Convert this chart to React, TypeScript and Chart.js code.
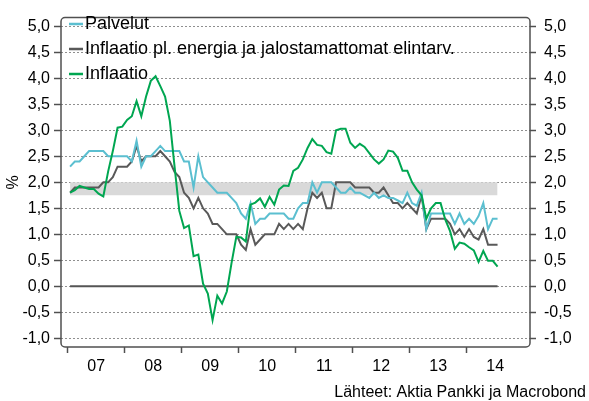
import React, { useEffect, useRef } from 'react';
import { Chart, registerables } from 'chart.js';

Chart.register(...registerables);

// ---- data (monthly, Jan 2007 .. Jul 2014) ----
const yearLabels = ['07', '08', '09', '10', '11', '12', '13', '14'];

const palvelut = [
  2.3, 2.4, 2.4, 2.5, 2.6, 2.6, 2.6, 2.6, 2.5, 2.5,
  2.5, 2.5, 2.5, 2.4, 2.8, 2.3, 2.5, 2.5, 2.6, 2.7,
  2.6, 2.6, 2.6, 2.6, 2.4, 2.4, 1.9, 2.5, 2.1, 2.0,
  1.9, 1.8, 1.8, 1.8, 1.7, 1.6, 1.4, 1.3, 1.6, 1.2,
  1.3, 1.3, 1.4, 1.4, 1.4, 1.4, 1.3, 1.3, 1.5, 1.6,
  1.6, 2.0, 1.8, 2.0, 2.0, 2.0, 1.9, 1.8, 1.8, 1.9,
  1.8, 1.8, 1.75, 1.7, 1.8, 1.7, 1.75, 1.7, 1.7, 1.65,
  1.6, 1.8, 1.6, 1.55, 1.8, 1.1, 1.4, 1.4, 1.4, 1.4,
  1.4, 1.2, 1.4, 1.2, 1.3, 1.2, 1.35, 1.6, 1.1, 1.3, 1.3,
];

const pohjaInflaatio = [
  1.8, 1.9, 1.9, 1.9, 1.9, 1.9, 1.9, 2.0, 2.0, 2.1,
  2.3, 2.3, 2.3, 2.4, 2.7, 2.4, 2.5, 2.5, 2.5, 2.6,
  2.5, 2.4, 2.2, 2.1, 1.8, 1.7, 1.5, 1.7, 1.5, 1.4,
  1.2, 1.2, 1.1, 1.0, 1.0, 1.0, 0.8, 0.7, 1.1, 0.8,
  0.9, 1.0, 1.0, 1.0, 1.2, 1.1, 1.2, 1.1, 1.2, 1.1,
  1.5, 1.8, 1.7, 1.8, 1.5, 1.5, 2.0, 2.0, 2.0, 2.0,
  1.9, 1.9, 1.9, 1.9, 1.8, 1.8, 1.9, 1.75, 1.6, 1.6,
  1.5, 1.6, 1.5, 1.4, 1.75, 1.1, 1.3, 1.3, 1.3, 1.3,
  1.2, 1.0, 1.1, 0.95, 1.1, 0.95, 0.9, 1.1, 0.8, 0.8, 0.8,
];

const inflaatio = [
  1.8, 1.85, 1.93, 1.9, 1.87, 1.87, 1.78, 1.73, 2.2, 2.6,
  3.05, 3.07, 3.2, 3.27, 3.56, 3.27, 3.65, 3.95, 4.04, 3.85,
  3.65, 3.18, 2.3, 1.45, 1.12, 1.17, 0.58, 0.61, 0.05, -0.14,
  -0.65, -0.18, -0.33, -0.1, 0.45, 0.95, 0.94, 0.86, 1.57, 1.61,
  1.69, 1.53, 1.72, 1.57, 1.86, 1.94, 1.93, 2.22, 2.28, 2.44,
  2.66, 2.83, 2.72, 2.7, 2.58, 2.55, 3.0, 3.03, 3.03, 2.76,
  2.66, 2.74, 2.68, 2.56, 2.44, 2.36, 2.44, 2.61, 2.59, 2.47,
  2.22, 2.22, 2.0, 1.86, 1.75, 1.3, 1.5, 1.6, 1.6, 1.28,
  1.06, 0.72, 0.84, 0.82, 0.75, 0.69, 0.47, 0.68, 0.49, 0.49, 0.38,
];

const targetBandLow = 1.75;
const targetBandHigh = 2.0;
const yTickValues = [-1, -0.5, 0, 0.5, 1, 1.5, 2, 2.5, 3, 3.5, 4, 4.5, 5];

const seriesNames = ['Palvelut', 'Inflaatio pl. energia ja jalostamattomat elintarv.', 'Inflaatio'];
const seriesColors = ['#5BBFD0', '#595959', '#00A651'];
const sourceText = 'Lähteet: Aktia Pankki ja Macrobond';

const FONT = "'Liberation Sans', Arial, Helvetica, sans-serif";

const toPoints = (arr: number[]) => arr.map((y, i) => ({ x: i + 0.5, y }));
const fmt = (v: number) => Number(v).toFixed(1).replace('.', ',');

export default function App() {
  const ref = useRef<HTMLCanvasElement | null>(null);

  useEffect(() => {
    const canvas = ref.current;
    if (!canvas) return;
    const nMonths = inflaatio.length;
    const xStart = 0.5;
    const xEnd = nMonths - 0.5;

    const xTickValues: number[] = [];
    yearLabels.forEach((_, k) => {
      xTickValues.push(k * 12);
      xTickValues.push(k * 12 + 6);
    });

    const decor = {
      id: 'decor',
      afterDatasetsDraw(chart: any) {
        const { ctx, chartArea: a } = chart;
        ctx.save();
        // frame
        ctx.strokeStyle = '#505050';
        ctx.lineWidth = 1.5;
        ctx.beginPath();
        if (ctx.roundRect) ctx.roundRect(a.left, a.top, a.right - a.left, a.bottom - a.top, 4);
        else ctx.rect(a.left, a.top, a.right - a.left, a.bottom - a.top);
        ctx.stroke();
        // legend
        const rowsY = [24, 49, 74];
        ctx.font = `18px ${FONT}`;
        ctx.textBaseline = 'middle';
        ctx.textAlign = 'left';
        seriesNames.forEach((name, k) => {
          const y = rowsY[k];
          ctx.strokeStyle = seriesColors[k];
          ctx.lineWidth = 2.5;
          ctx.beginPath();
          ctx.moveTo(a.left + 8, y);
          ctx.lineTo(a.left + 22, y);
          ctx.stroke();
          ctx.fillStyle = '#000';
          ctx.fillText(name, a.left + 24, y + 0.5);
        });
        ctx.restore();
      },
      afterDraw(chart: any) {
        const { ctx, chartArea: a } = chart;
        ctx.save();
        ctx.fillStyle = '#000';
        ctx.font = `16px ${FONT}`;
        ctx.textAlign = 'center';
        ctx.textBaseline = 'middle';
        ctx.translate(14, (a.top + a.bottom) / 2);
        ctx.rotate(-Math.PI / 2);
        ctx.fillText('%', 0, 0);
        ctx.restore();

        ctx.save();
        ctx.fillStyle = '#000';
        ctx.font = `16px ${FONT}`;
        ctx.textAlign = 'right';
        ctx.textBaseline = 'alphabetic';
        ctx.fillText(sourceText, 586, 396.5);
        ctx.restore();
      },
    };

    const yTicksBuild = (s: any) => {
      s.ticks = yTickValues.map((v) => ({ value: v }));
    };

    const chart = new Chart(canvas, {
      type: 'line',
      data: {
        datasets: [
          {
            label: 'band',
            data: [
              { x: xStart, y: targetBandHigh },
              { x: xEnd, y: targetBandHigh },
            ],
            borderWidth: 0,
            borderColor: 'rgba(0,0,0,0)',
            backgroundColor: '#d9d9d9',
            fill: { value: targetBandLow },
            pointRadius: 0,
            order: 5,
          },
          {
            label: 'zero',
            data: [
              { x: xStart, y: 0 },
              { x: xEnd, y: 0 },
            ],
            borderColor: '#555555',
            borderWidth: 2,
            pointRadius: 0,
            fill: false,
            order: 4,
          },
          {
            label: seriesNames[1],
            data: toPoints(pohjaInflaatio),
            borderColor: seriesColors[1],
            borderWidth: 2,
            pointRadius: 0,
            fill: false,
            tension: 0,
            order: 3,
          },
          {
            label: seriesNames[0],
            data: toPoints(palvelut),
            borderColor: seriesColors[0],
            borderWidth: 2,
            pointRadius: 0,
            fill: false,
            tension: 0,
            order: 2,
          },
          {
            label: seriesNames[2],
            data: toPoints(inflaatio),
            borderColor: seriesColors[2],
            borderWidth: 2,
            pointRadius: 0,
            fill: false,
            tension: 0,
            order: 1,
          },
        ],
      },
      options: {
        responsive: false,
        animation: false,
        devicePixelRatio: 1,
        layout: { padding: { top: 6, left: 0, right: 0, bottom: 0 } },
        plugins: {
          legend: { display: false },
          tooltip: { enabled: false },
        },
        scales: {
          x: {
            type: 'linear',
            min: -1.41,
            max: 97.33,
            afterBuildTicks: (s: any) => {
              s.ticks = xTickValues.map((v) => ({ value: v }));
            },
            afterFit: (s: any) => {
              s.height = 54;
            },
            grid: {
              drawOnChartArea: false,
              drawTicks: true,
              tickLength: 6,
              tickWidth: 1.5,
              tickColor: (c: any) =>
                c.tick && Math.round(c.tick.value) % 12 === 0 ? '#505050' : 'rgba(0,0,0,0)',
            },
            border: { display: false },
            ticks: {
              autoSkip: false,
              maxRotation: 0,
              minRotation: 0,
              padding: 4,
              color: '#000',
              font: { size: 16, family: FONT },
              callback: (v: any) => {
                const n = Math.round(Number(v));
                return n % 12 === 6 ? yearLabels[(n - 6) / 12] : '';
              },
            },
          },
          y: {
            position: 'left',
            min: -1.167,
            max: 5.167,
            afterBuildTicks: yTicksBuild,
            afterFit: (s: any) => {
              s.width = 61;
            },
            grid: {
              color: '#8f8f8f',
              lineWidth: 1,
              drawTicks: true,
              tickLength: 7,
              tickWidth: 1.5,
              tickColor: '#505050',
              tickBorderDash: [],
            },
            border: { display: false, dash: [2, 2] },
            ticks: {
              padding: 4,
              color: '#000',
              font: { size: 16, family: FONT },
              callback: (v: any) => fmt(v),
            },
          },
          y2: {
            position: 'right',
            min: -1.167,
            max: 5.167,
            afterBuildTicks: yTicksBuild,
            afterFit: (s: any) => {
              s.width = 59;
            },
            grid: {
              drawOnChartArea: false,
              drawTicks: true,
              tickLength: 6,
              tickWidth: 1.5,
              tickColor: '#505050',
            },
            border: { display: false },
            ticks: {
              padding: 8,
              color: '#000',
              font: { size: 16, family: FONT },
              callback: (v: any) => fmt(v),
            },
          },
        },
      } as any,
      plugins: [decor],
    });

    return () => chart.destroy();
  }, []);

  return (
    <div style={{ position: 'absolute', left: 0, top: 0, width: 589, height: 401, background: '#fff' }}>
      <canvas ref={ref} width={589} height={401} style={{ display: 'block', width: 589, height: 401 }} />
    </div>
  );
}
